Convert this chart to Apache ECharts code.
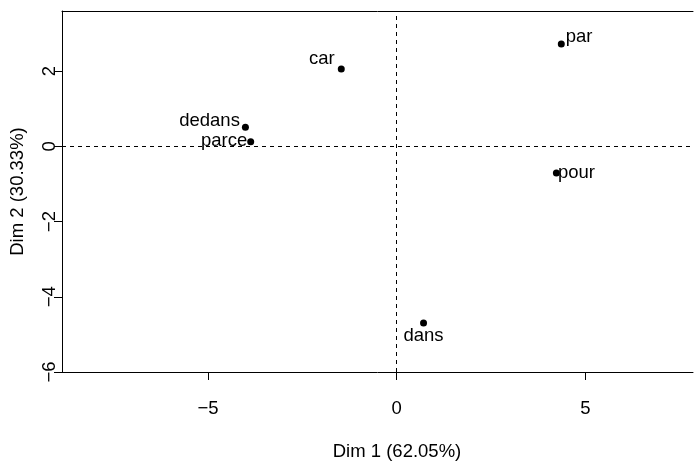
<!DOCTYPE html>
<html><head><meta charset="utf-8">
<script src="https://cdn.jsdelivr.net/npm/echarts@6/dist/echarts.min.js"></script>
<style>html,body{margin:0;padding:0;background:#fff;overflow:hidden}#c{width:694px;height:466px}</style>
</head><body><div id="c"></div>
<script>
const words = ['par','car','dedans','parce','pour','dans'];
const dim1 = [4.36, -1.47, -4.01, -3.87, 4.23, 0.71];
const dim2 = [2.72, 2.06, 0.51, 0.12, -0.71, -4.70];
const xTicks = [-5, 0, 5];
const yTicks = [-6, -4, -2, 0, 2];
const xTitle = 'Dim 1 (62.05%)';
const yTitle = 'Dim 2 (30.33%)';

const labelPos = {
  par:    {position:'right',  distance:1,  offset:[0,-7]},
  car:    {position:'left',   distance:3,  offset:[0,-10]},
  dedans: {position:'left',   distance:1,  offset:[-1,-6]},
  parce:  {position:'left',   distance:0,  offset:[0,-1]},
  pour:   {position:'right',  distance:0,  offset:[-2,0]},
  dans:   {position:'bottom', distance:0,  offset:[0,0]}
};
const font = 'Liberation Sans, Arial, sans-serif';
const fs = 18.5;
const minus = v => String(v).replace('-', '\u2212');

const data = words.map((w,i) => ({
  value:[dim1[i], dim2[i]], name:w,
  label: Object.assign({show:true, formatter:w, color:'#000', fontSize:fs, fontFamily:font}, labelPos[w])
}));

const xMin = -8.87, xMax = 7.85;
const chart = echarts.init(document.getElementById('c'), null, {renderer:'canvas'});
chart.setOption({
  animation:false,
  backgroundColor:'#fff',
  grid:{left:60, right:1, top:11, bottom:92, show:false},
  xAxis:[{
    type:'value', min:xMin, max:xMax, position:'bottom',
    name:xTitle, nameLocation:'middle', nameGap:70,
    nameTextStyle:{color:'#000', fontSize:fs, fontFamily:font, padding:[0,0,0,39]},
    axisLine:{show:true, onZero:false, lineStyle:{color:'#000'}},
    axisTick:{show:true, length:8, customValues:xTicks, lineStyle:{color:'#000'}},
    axisLabel:{show:true, customValues:xTicks, formatter:minus, color:'#000', fontSize:fs, fontFamily:font, margin:27},
    splitLine:{show:false}
  },{
    type:'value', min:xMin, max:xMax, position:'top',
    axisLine:{show:true, onZero:false, lineStyle:{color:'#000'}},
    axisTick:{show:false}, axisLabel:{show:false}, splitLine:{show:false}
  }],
  yAxis:{
    type:'value', min:-6, max:3.6,
    name:yTitle, nameLocation:'middle', nameGap:35,
    nameTextStyle:{color:'#000', fontSize:fs, fontFamily:font},
    axisLine:{show:true, onZero:false, lineStyle:{color:'#000'}},
    axisTick:{show:true, length:8, customValues:yTicks, lineStyle:{color:'#000'}},
    axisLabel:{show:true, customValues:yTicks, formatter:minus, rotate:90, color:'#000', fontSize:fs, fontFamily:font, margin:3},
    splitLine:{show:false}
  },
  series:[{
    type:'scatter', symbol:'circle', symbolSize:7, xAxisIndex:0,
    itemStyle:{color:'#000', opacity:1},
    emphasis:{disabled:true},
    data:data,
    markLine:{
      silent:true, symbol:'none', label:{show:false},
      lineStyle:{color:'#000', type:[4,4], width:1, opacity:1},
      data:[{xAxis:0},{yAxis:0}]
    }
  }]
});
</script></body></html>
